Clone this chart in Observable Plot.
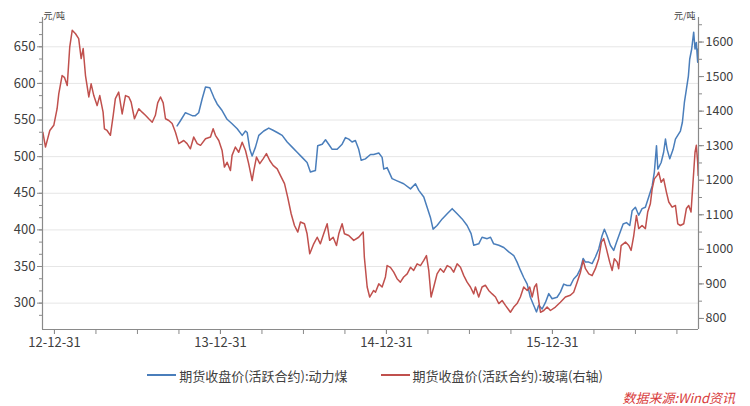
<!DOCTYPE html>
<html><head><meta charset="utf-8">
<script src="https://cdn.jsdelivr.net/npm/d3@7"></script>
<script src="https://cdn.jsdelivr.net/npm/@observablehq/plot@0.6"></script>
<style>
body{margin:0;background:#fff;font-family:"Noto Sans CJK SC","Noto Sans",sans-serif;}
#wrap{width:750px;height:406px;background:#fff;}
.legend{height:30px;display:flex;justify-content:center;align-items:center;gap:33px;font-size:13px;color:#404040;}
.item{display:flex;align-items:center;white-space:nowrap;}
.sw{width:29px;height:2px;margin-right:3px;}
.src{text-align:right;padding-right:15px;font-size:13px;font-style:italic;color:#d83a3a;line-height:16px;}
</style></head>
<body><div id="wrap"></div>
<script>
// ---- data (x = decimal year) ----
const seriesNames = ["期货收盘价(活跃合约):动力煤", "期货收盘价(活跃合约):玻璃(右轴)"];
const coal = [[2013.739,542],[2013.759,549],[2013.789,560],[2013.809,558],[2013.83,556],[2013.849,556],[2013.869,560],[2013.89,579],[2013.91,595],[2013.936,594],[2013.96,581],[2013.98,572],[2014.01,563],[2014.04,551],[2014.07,545],[2014.101,538],[2014.131,529],[2014.151,535],[2014.161,533],[2014.177,510],[2014.191,501],[2014.211,513],[2014.231,529],[2014.261,535],[2014.291,539],[2014.317,536],[2014.342,533],[2014.372,529],[2014.402,520],[2014.432,513],[2014.462,506],[2014.492,499],[2014.522,492],[2014.542,479],[2014.572,481],[2014.586,515],[2014.613,517],[2014.633,523],[2014.652,517],[2014.673,510],[2014.703,510],[2014.733,517],[2014.753,526],[2014.773,524],[2014.793,520],[2014.813,522],[2014.833,510],[2014.848,495],[2014.873,497],[2014.904,503],[2014.923,503],[2014.954,505],[2014.974,499],[2014.984,483],[2015.004,485],[2015.034,470],[2015.064,467],[2015.104,463],[2015.145,456],[2015.175,463],[2015.195,454],[2015.225,445],[2015.245,431],[2015.265,417],[2015.281,401],[2015.305,406],[2015.336,415],[2015.366,422],[2015.396,429],[2015.426,422],[2015.456,415],[2015.486,406],[2015.51,395],[2015.526,379],[2015.556,381],[2015.576,390],[2015.607,388],[2015.627,390],[2015.646,381],[2015.677,379],[2015.707,376],[2015.737,370],[2015.767,365],[2015.787,356],[2015.807,345],[2015.827,335],[2015.848,326],[2015.867,308],[2015.887,297],[2015.904,288],[2015.917,297],[2015.938,292],[2015.958,301],[2015.978,313],[2015.998,306],[2016.028,308],[2016.048,315],[2016.068,326],[2016.088,324],[2016.108,324],[2016.128,333],[2016.149,338],[2016.169,347],[2016.185,361],[2016.199,356],[2016.219,356],[2016.239,354],[2016.259,363],[2016.279,374],[2016.299,392],[2016.313,401],[2016.329,392],[2016.349,379],[2016.369,372],[2016.386,383],[2016.405,395],[2016.426,408],[2016.446,410],[2016.466,406],[2016.48,426],[2016.5,431],[2016.52,420],[2016.54,429],[2016.56,431],[2016.58,445],[2016.601,460],[2016.614,479],[2016.627,515],[2016.635,483],[2016.655,492],[2016.67,506],[2016.681,524],[2016.691,510],[2016.707,497],[2016.727,510],[2016.741,524],[2016.755,529],[2016.771,535],[2016.783,547],[2016.795,574],[2016.807,592],[2016.819,610],[2016.827,633],[2016.839,647],[2016.851,670],[2016.859,647],[2016.867,656],[2016.875,629],[2016.878,647]];
const glass = [[2012.93,1339],[2012.946,1296],[2012.972,1344],[2012.996,1359],[2013.016,1407],[2013.026,1450],[2013.046,1503],[2013.06,1498],[2013.077,1474],[2013.092,1585],[2013.107,1634],[2013.127,1624],[2013.146,1610],[2013.161,1552],[2013.173,1581],[2013.187,1503],[2013.207,1441],[2013.221,1479],[2013.237,1445],[2013.257,1416],[2013.273,1445],[2013.293,1397],[2013.301,1349],[2013.317,1344],[2013.337,1330],[2013.354,1388],[2013.367,1436],[2013.387,1455],[2013.408,1392],[2013.428,1445],[2013.448,1441],[2013.462,1426],[2013.482,1378],[2013.508,1407],[2013.528,1397],[2013.548,1388],[2013.568,1378],[2013.589,1368],[2013.608,1388],[2013.622,1424],[2013.639,1441],[2013.655,1424],[2013.669,1378],[2013.689,1373],[2013.709,1364],[2013.729,1339],[2013.749,1306],[2013.779,1315],[2013.799,1306],[2013.819,1291],[2013.839,1325],[2013.86,1306],[2013.88,1301],[2013.91,1320],[2013.94,1325],[2013.956,1349],[2013.97,1330],[2013.99,1315],[2014.01,1286],[2014.024,1238],[2014.04,1252],[2014.06,1228],[2014.07,1272],[2014.09,1296],[2014.11,1281],[2014.131,1310],[2014.151,1286],[2014.17,1248],[2014.191,1199],[2014.201,1228],[2014.217,1267],[2014.237,1248],[2014.257,1262],[2014.277,1277],[2014.297,1257],[2014.317,1243],[2014.342,1233],[2014.361,1214],[2014.386,1190],[2014.405,1151],[2014.426,1103],[2014.446,1069],[2014.466,1050],[2014.482,1079],[2014.506,1074],[2014.522,1045],[2014.538,987],[2014.562,1016],[2014.583,1035],[2014.602,1016],[2014.622,1045],[2014.643,1074],[2014.658,1026],[2014.679,1035],[2014.699,1011],[2014.713,1045],[2014.733,1074],[2014.747,1045],[2014.773,1040],[2014.803,1026],[2014.833,1035],[2014.86,1050],[2014.867,977],[2014.884,891],[2014.899,862],[2014.923,881],[2014.934,876],[2014.954,900],[2014.974,891],[2014.994,920],[2015.004,953],[2015.024,948],[2015.044,934],[2015.064,915],[2015.084,905],[2015.104,920],[2015.125,929],[2015.145,948],[2015.164,939],[2015.185,958],[2015.205,953],[2015.225,968],[2015.241,982],[2015.255,939],[2015.269,862],[2015.285,891],[2015.305,929],[2015.325,944],[2015.345,934],[2015.366,953],[2015.386,948],[2015.405,934],[2015.426,958],[2015.446,948],[2015.466,924],[2015.486,905],[2015.506,891],[2015.526,871],[2015.536,891],[2015.556,862],[2015.576,891],[2015.596,896],[2015.616,881],[2015.637,871],[2015.657,862],[2015.677,843],[2015.697,852],[2015.717,838],[2015.747,818],[2015.767,833],[2015.787,843],[2015.807,862],[2015.827,891],[2015.848,881],[2015.863,891],[2015.878,862],[2015.892,891],[2015.904,900],[2015.917,852],[2015.928,818],[2015.948,823],[2015.968,833],[2015.988,823],[2016.018,833],[2016.048,847],[2016.078,862],[2016.108,867],[2016.128,876],[2016.149,905],[2016.169,934],[2016.185,968],[2016.199,944],[2016.219,929],[2016.239,924],[2016.259,944],[2016.279,973],[2016.295,1021],[2016.309,1031],[2016.325,1002],[2016.345,963],[2016.36,939],[2016.373,973],[2016.39,963],[2016.399,944],[2016.414,1011],[2016.44,1021],[2016.46,1011],[2016.474,997],[2016.49,1040],[2016.506,1098],[2016.52,1060],[2016.54,1069],[2016.56,1060],[2016.574,1108],[2016.59,1132],[2016.601,1175],[2016.614,1204],[2016.631,1214],[2016.64,1223],[2016.655,1194],[2016.67,1204],[2016.687,1165],[2016.701,1137],[2016.721,1122],[2016.741,1127],[2016.755,1074],[2016.771,1069],[2016.791,1074],[2016.807,1118],[2016.821,1127],[2016.835,1108],[2016.847,1194],[2016.859,1281],[2016.867,1301],[2016.875,1252],[2016.878,1214]];
const leftTicks = [300, 350, 400, 450, 500, 550, 600, 650];
const rightTicks = [800, 900, 1000, 1100, 1200, 1300, 1400, 1500, 1600];
const xTickYears = [2013, 2014, 2015, 2016];
const xTickLabels = ["12-12-31", "13-12-31", "14-12-31", "15-12-31"];
const unitLabel = "元/吨";
const sourceText = "数据来源:Wind资讯";

// ---- scales / styles ----
const yDomain = [264, 690], y2Domain = [768, 1671], xDomain = [2012.928, 2016.88];
const toLeft = g => yDomain[0] + (g - y2Domain[0]) * (yDomain[1] - yDomain[0]) / (y2Domain[1] - y2Domain[0]);
const fromLeft = v => y2Domain[0] + (v - yDomain[0]) * (y2Domain[1] - y2Domain[0]) / (yDomain[1] - yDomain[0]);
const coalColor = "#4a7ebb", glassColor = "#c0504d", axisColor = "#8a8a8a", textColor = "#404040";
const font = '"Noto Sans CJK SC","Noto Sans",sans-serif';

const coalData = coal.map(([t, v]) => ({t, v}));
const glassData = glass.map(([t, v]) => ({t, v: toLeft(v)}));
const leftMinor = d3.range(-1, 24).map(k => 300 + k * 50 / 3).filter(v => v > yDomain[0] && v < yDomain[1]);
const rightMinor = d3.range(800, 1700, 50).filter(v => v < y2Domain[1]);
const quarterTicks = d3.range(2013, 2016.8, 0.25);
const labelMap = new Map(xTickYears.map((y, i) => [y, xTickLabels[i]]));

const chart = Plot.plot({
  width: 750, height: 360,
  marginLeft: 42, marginRight: 52, marginTop: 17, marginBottom: 31,
  style: {fontFamily: font, fontSize: "12px", color: textColor, background: "#fff"},
  x: {type: "linear", domain: xDomain, axis: null, label: null},
  y: {domain: yDomain, axis: null, label: null},
  marks: [
    Plot.gridY(leftTicks, {stroke: "#e6e6e6", strokeOpacity: 1}),
    Plot.line(coalData, {x: "t", y: "v", stroke: coalColor, strokeWidth: 1.5}),
    Plot.line(glassData, {x: "t", y: "v", stroke: glassColor, strokeWidth: 1.5}),
    Plot.ruleX([xDomain[0], xDomain[1]], {stroke: axisColor, strokeWidth: 1.2}),
    Plot.ruleY([yDomain[0]], {stroke: axisColor, strokeWidth: 1.2}),
    Plot.axisY(leftMinor, {anchor: "left", label: null, tickSize: 3, tickFormat: () => "", stroke: axisColor}),
    Plot.axisY(leftTicks, {anchor: "left", label: null, tickSize: 5, tickPadding: 2, stroke: axisColor, fill: textColor, fontSize: 13}),
    Plot.axisY(rightMinor.map(toLeft), {anchor: "right", label: null, tickSize: 3, tickFormat: () => "", stroke: axisColor}),
    Plot.axisY(rightTicks.map(toLeft), {anchor: "right", label: null, tickSize: 5, tickPadding: 2, stroke: axisColor, fill: textColor, fontSize: 12.5, tickFormat: d => String(Math.round(fromLeft(d)))}),
    Plot.axisX(quarterTicks, {label: null, tickSize: 5, tickFormat: () => "", stroke: axisColor}),
    Plot.axisX(xTickYears, {label: null, tickSize: 5, tickPadding: 3, stroke: axisColor, fill: textColor, fontSize: 13, tickFormat: d => labelMap.get(d)}),
    Plot.text([unitLabel], {frameAnchor: "top-left", textAnchor: "start", lineAnchor: "bottom", dx: 1, dy: 1, fontSize: 9, fill: textColor}),
    Plot.text([unitLabel], {frameAnchor: "top-right", textAnchor: "end", lineAnchor: "bottom", dx: -3, dy: 1, fontSize: 9, fill: textColor})
  ]
});

const wrap = document.getElementById("wrap");
wrap.appendChild(chart);

const legend = document.createElement("div");
legend.className = "legend";
[[seriesNames[0], coalColor], [seriesNames[1], glassColor]].forEach(([name, c]) => {
  const it = document.createElement("div");
  it.className = "item";
  const sw = document.createElement("span");
  sw.className = "sw";
  sw.style.background = c;
  const tx = document.createElement("span");
  tx.textContent = name;
  it.appendChild(sw); it.appendChild(tx);
  legend.appendChild(it);
});
wrap.appendChild(legend);

const src = document.createElement("div");
src.className = "src";
src.textContent = sourceText;
wrap.appendChild(src);
</script>
</body></html>
